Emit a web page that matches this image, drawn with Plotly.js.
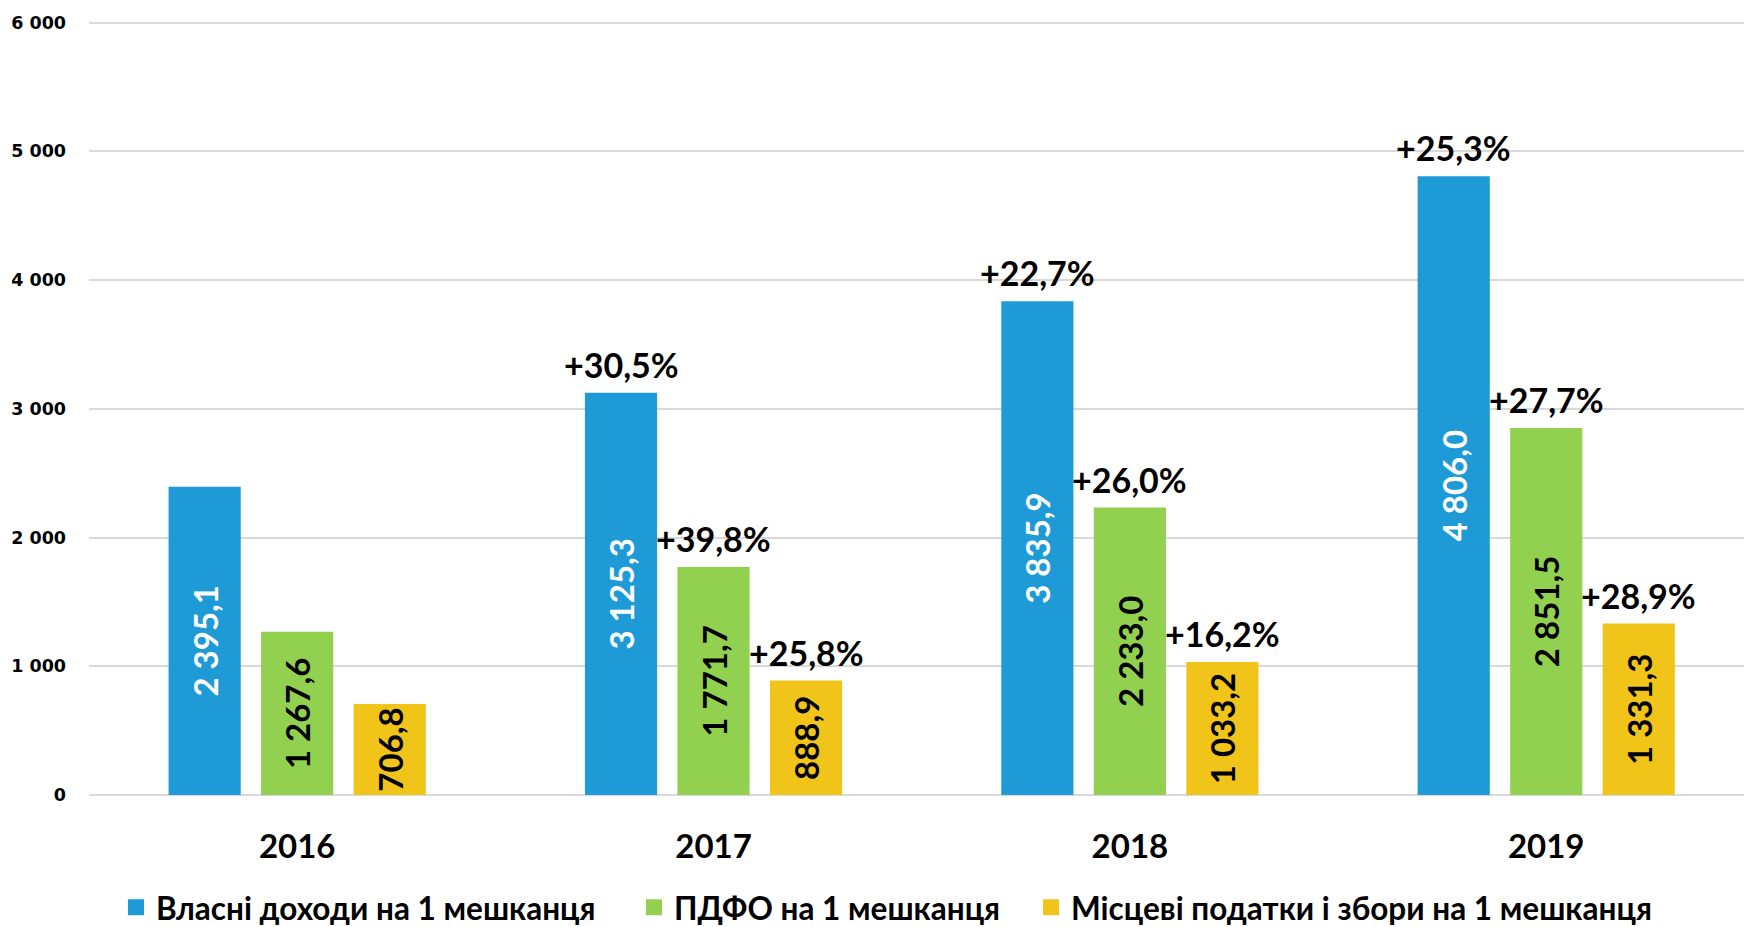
<!DOCTYPE html>
<html>
<head>
<meta charset="utf-8">
<script src="https://cdn.plot.ly/plotly-3.0.1.min.js"></script>
<style>html,body{margin:0;padding:0;background:#fff;}#chart{width:1744px;height:927px;}</style>
</head>
<body>
<div id="chart"></div>
<script>
const years = ['2016', '2017', '2018', '2019'];
const seriesNames = ['Власні доходи на 1 мешканця', 'ПДФО на 1 мешканця', 'Місцеві податки і збори на 1 мешканця'];
const ownRevenue = [2395.1, 3125.3, 3835.9, 4806.0];
const pit = [1267.6, 1771.7, 2233.0, 2851.5];
const localTaxes = [706.8, 888.9, 1033.2, 1331.3];
const ownRevenueGrowth = [null, 30.5, 22.7, 25.3];
const pitGrowth = [null, 39.8, 26.0, 27.7];
const localTaxesGrowth = [null, 25.8, 16.2, 28.9];
const yTicks = [0, 1000, 2000, 3000, 4000, 5000, 6000];

const colors = ['#1E9BD7', '#92D050', '#F0C419'];
const labelColors = ['#FFFFFF', '#000000', '#000000'];
const values = [ownRevenue, pit, localTaxes];
const growth = [ownRevenueGrowth, pitGrowth, localTaxesGrowth];
const FONT = 'Lato, "Open Sans", sans-serif';
const legendIds = ['legend', 'legend2', 'legend3'];
const legendX = [0.0163, 0.3293, 0.5692];

const traces = values.map((v, s) => ({
  type: 'bar',
  name: seriesNames[s],
  x: years,
  y: v,
  marker: {color: colors[s]},
  texttemplate: '%{y:,.1f}',
  textposition: 'inside',
  insidetextanchor: 'middle',
  textangle: -90,
  constraintext: 'none',
  cliponaxis: false,
  showlegend: false,
  textfont: {family: FONT, size: 33, color: labelColors[s], weight: 'bold'},
  hoverinfo: 'skip'
}));

// legend entries (square swatches) for the three series
seriesNames.forEach((n, s) => {
  traces.push({
    type: 'scatter', mode: 'markers', name: n,
    x: [null], y: [null],
    legend: legendIds[s],
    marker: {symbol: 'square', size: 18, color: colors[s]},
    hoverinfo: 'skip'
  });
});

const slot = (1 - 0.3333) / 3;
const annotations = [];
growth.forEach((g, s) => {
  g.forEach((p, i) => {
    if (p === null) return;
    annotations.push({
      x: i + (s - 1) * slot,
      y: values[s][i],
      xref: 'x', yref: 'y',
      text: '+' + p.toFixed(1).replace('.', ',') + '%',
      showarrow: false,
      yanchor: 'bottom',
      yshift: 6,
      font: {family: FONT, size: 34, color: '#000000', weight: 'bold'}
    });
  });
});

const legendBase = {
  orientation: 'h', xanchor: 'left', y: -0.145, yanchor: 'middle',
  bgcolor: 'rgba(0,0,0,0)', borderwidth: 0,
  font: {family: FONT, size: 31.5, color: '#000000', weight: 'bold'},
  itemclick: false, itemdoubleclick: false
};

const layout = {
  width: 1744, height: 927,
  margin: {l: 89, r: 0, t: 21, b: 132, pad: 0, autoexpand: false},
  paper_bgcolor: '#FFFFFF', plot_bgcolor: '#FFFFFF',
  separators: ', ',
  barmode: 'group',
  bargap: 0.3333,
  bargroupgap: 0.22,
  showlegend: true,
  legend: Object.assign({}, legendBase, {x: legendX[0]}),
  legend2: Object.assign({}, legendBase, {x: legendX[1]}),
  legend3: Object.assign({}, legendBase, {x: legendX[2]}),
  xaxis: {
    type: 'category',
    range: [-0.5, 3.475],
    showgrid: false, showline: false, zeroline: false, ticks: '',
    ticklabelstandoff: 29,
    tickfont: {family: FONT, size: 33, color: '#000000', weight: 'bold'},
    fixedrange: true
  },
  yaxis: {
    range: [0, 6012],
    tickvals: yTicks,
    tickformat: ',d',
    showgrid: true, gridcolor: '#D9D9D9', gridwidth: 2,
    zeroline: true, zerolinecolor: '#D9D9D9', zerolinewidth: 2,
    showline: false, ticks: '',
    ticklabelstandoff: 22,
    tickfont: {family: '"DejaVu Sans", sans-serif', size: 17.5, color: '#000000', weight: 'bold'},
    fixedrange: true
  },
  annotations: annotations
};

Plotly.newPlot('chart', traces, layout, {displayModeBar: false, staticPlot: true});
</script>
</body>
</html>
